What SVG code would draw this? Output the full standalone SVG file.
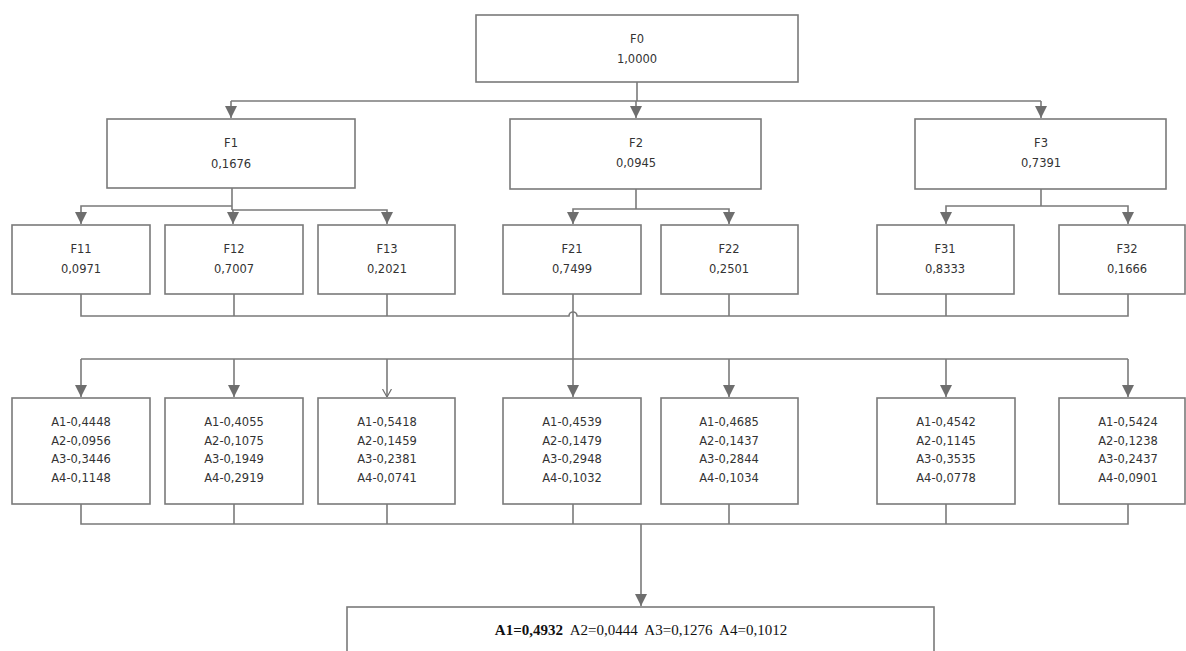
<svg xmlns="http://www.w3.org/2000/svg" width="1186" height="651" viewBox="0 0 1186 651">
  <style>
    .box { fill: #ffffff; stroke: #7a7a7a; stroke-width: 1.6; }
    .ln { fill: none; stroke: #7a7a7a; stroke-width: 1.6; }
    .arr { marker-end: url(#tri); }
    .lbl { font-family: "DejaVu Sans", Tahoma, sans-serif; font-size: 11.5px; fill: #333; text-anchor: middle; }
    .al { font-family: "DejaVu Sans", Tahoma, sans-serif; font-size: 11.5px; fill: #333; text-anchor: middle; }
    .res { font-family: "Liberation Serif", "Times New Roman", serif; font-size: 15px; fill: #111; text-anchor: middle; }
  </style>
  <defs>
    <marker id="tri" markerUnits="userSpaceOnUse" markerWidth="12" markerHeight="12" refX="10" refY="5" orient="auto" viewBox="0 0 10 10">
      <path d="M0,0 L10,5 L0,10 z" fill="#6e6e6e"/>
    </marker>
    <marker id="vee" markerUnits="userSpaceOnUse" markerWidth="8" markerHeight="10" refX="8" refY="5" orient="auto" viewBox="0 0 8 10">
      <path d="M0,0.5 L8,5 L0,9.5" fill="none" stroke="#6e6e6e" stroke-width="1.2"/>
    </marker>
  </defs>
  <rect width="1186" height="651" fill="#ffffff"/>

  <!-- connectors -->
  <g id="connectors">
    <!-- F0 to F1, F2, F3 -->
    <path class="ln" d="M637,82 V101"/>
    <path class="ln" d="M231,101 H1041"/>
    <path class="ln arr" d="M231,101 V118"/>
    <path class="ln arr" d="M636,101 V118"/>
    <path class="ln arr" d="M1041,101 V118"/>
    <!-- F1 to F11, F12, F13 -->
    <path class="ln" d="M232,188 V210"/>
    <path class="ln arr" d="M232,206 H81 V224"/>
    <path class="ln arr" d="M232,210 H387 V224"/>
    <path class="ln arr" d="M233,210 V224"/>
    <!-- F2 to F21, F22 -->
    <path class="ln" d="M636,189 V209"/>
    <path class="ln arr" d="M636,209 H573 V224"/>
    <path class="ln arr" d="M636,209 H729 V224"/>
    <!-- F3 to F31, F32 -->
    <path class="ln" d="M1041,189 V206"/>
    <path class="ln arr" d="M1041,206 H946 V224"/>
    <path class="ln arr" d="M1041,206 H1128 V224"/>
    <!-- second level bus with a hop over the F21 drop -->
    <path class="ln" d="M81,294 V316 H569 A4,4 0 0 1 577,316 H1128 V294"/>
    <path class="ln" d="M234,294 V316"/>
    <path class="ln" d="M387,294 V316"/>
    <path class="ln" d="M729,294 V316"/>
    <path class="ln" d="M946,294 V316"/>
    <!-- drop from F21 to the alternatives bus -->
    <path class="ln arr" d="M573,294 V397"/>
    <path class="ln" d="M81,359 H1128"/>
    <path class="ln arr" d="M81,359 V397"/>
    <path class="ln arr" d="M234,359 V397"/>
    <path class="ln" style="marker-end:url(#vee)" d="M387,359 V397"/>
    <path class="ln arr" d="M729,359 V397"/>
    <path class="ln arr" d="M946,359 V397"/>
    <path class="ln arr" d="M1128,359 V397"/>
    <!-- alternatives to result -->
    <path class="ln" d="M81,504 V524 H1128 V504"/>
    <path class="ln" d="M234,504 V524"/>
    <path class="ln" d="M387,504 V524"/>
    <path class="ln" d="M573,504 V524"/>
    <path class="ln" d="M729,504 V524"/>
    <path class="ln" d="M946,504 V524"/>
    <path class="ln arr" d="M641,524 V606"/>
  </g>

  <!-- top goal -->
  <g id="F0">
    <rect class="box" x="476" y="15" width="322" height="67"/>
    <text class="lbl" x="637" y="43">F0</text>
    <text class="lbl" x="637" y="63">1,0000</text>
  </g>

  <!-- first level criteria -->
  <g id="F1">
    <rect class="box" x="107" y="119" width="248" height="69"/>
    <text class="lbl" x="231" y="147">F1</text>
    <text class="lbl" x="231" y="168">0,1676</text>
  </g>
  <g id="F2">
    <rect class="box" x="510" y="119" width="251" height="70"/>
    <text class="lbl" x="636" y="147">F2</text>
    <text class="lbl" x="636" y="167">0,0945</text>
  </g>
  <g id="F3">
    <rect class="box" x="915" y="119" width="251" height="70"/>
    <text class="lbl" x="1041" y="147">F3</text>
    <text class="lbl" x="1041" y="167">0,7391</text>
  </g>

  <!-- sub-criteria -->
  <g id="F11">
    <rect class="box" x="12" y="225" width="138" height="69"/>
    <text class="lbl" x="81" y="253">F11</text>
    <text class="lbl" x="81" y="273">0,0971</text>
  </g>
  <g id="F12">
    <rect class="box" x="165" y="225" width="138" height="69"/>
    <text class="lbl" x="234" y="253">F12</text>
    <text class="lbl" x="234" y="273">0,7007</text>
  </g>
  <g id="F13">
    <rect class="box" x="318" y="225" width="137" height="69"/>
    <text class="lbl" x="387" y="253">F13</text>
    <text class="lbl" x="387" y="273">0,2021</text>
  </g>
  <g id="F21">
    <rect class="box" x="503" y="225" width="138" height="69"/>
    <text class="lbl" x="572" y="253">F21</text>
    <text class="lbl" x="572" y="273">0,7499</text>
  </g>
  <g id="F22">
    <rect class="box" x="661" y="225" width="137" height="69"/>
    <text class="lbl" x="729" y="253">F22</text>
    <text class="lbl" x="729" y="273">0,2501</text>
  </g>
  <g id="F31">
    <rect class="box" x="877" y="225" width="137" height="69"/>
    <text class="lbl" x="945" y="253">F31</text>
    <text class="lbl" x="945" y="273">0,8333</text>
  </g>
  <g id="F32">
    <rect class="box" x="1059" y="225" width="126" height="69"/>
    <text class="lbl" x="1127" y="253">F32</text>
    <text class="lbl" x="1127" y="273">0,1666</text>
  </g>

  <!-- alternative weights per sub-criterion -->
  <g id="A-F11">
    <rect class="box" x="12" y="398" width="138" height="106"/>
    <text class="al" x="81" y="426">A1-0,4448</text>
    <text class="al" x="81" y="445">A2-0,0956</text>
    <text class="al" x="81" y="463">A3-0,3446</text>
    <text class="al" x="81" y="482">A4-0,1148</text>
  </g>
  <g id="A-F12">
    <rect class="box" x="165" y="398" width="138" height="106"/>
    <text class="al" x="234" y="426">A1-0,4055</text>
    <text class="al" x="234" y="445">A2-0,1075</text>
    <text class="al" x="234" y="463">A3-0,1949</text>
    <text class="al" x="234" y="482">A4-0,2919</text>
  </g>
  <g id="A-F13">
    <rect class="box" x="318" y="398" width="137" height="106"/>
    <text class="al" x="387" y="426">A1-0,5418</text>
    <text class="al" x="387" y="445">A2-0,1459</text>
    <text class="al" x="387" y="463">A3-0,2381</text>
    <text class="al" x="387" y="482">A4-0,0741</text>
  </g>
  <g id="A-F21">
    <rect class="box" x="503" y="398" width="138" height="106"/>
    <text class="al" x="572" y="426">A1-0,4539</text>
    <text class="al" x="572" y="445">A2-0,1479</text>
    <text class="al" x="572" y="463">A3-0,2948</text>
    <text class="al" x="572" y="482">A4-0,1032</text>
  </g>
  <g id="A-F22">
    <rect class="box" x="661" y="398" width="137" height="106"/>
    <text class="al" x="729" y="426">A1-0,4685</text>
    <text class="al" x="729" y="445">A2-0,1437</text>
    <text class="al" x="729" y="463">A3-0,2844</text>
    <text class="al" x="729" y="482">A4-0,1034</text>
  </g>
  <g id="A-F31">
    <rect class="box" x="877" y="398" width="138" height="106"/>
    <text class="al" x="946" y="426">A1-0,4542</text>
    <text class="al" x="946" y="445">A2-0,1145</text>
    <text class="al" x="946" y="463">A3-0,3535</text>
    <text class="al" x="946" y="482">A4-0,0778</text>
  </g>
  <g id="A-F32">
    <rect class="box" x="1059" y="398" width="126" height="106"/>
    <text class="al" x="1128" y="426">A1-0,5424</text>
    <text class="al" x="1128" y="445">A2-0,1238</text>
    <text class="al" x="1128" y="463">A3-0,2437</text>
    <text class="al" x="1128" y="482">A4-0,0901</text>
  </g>

  <!-- overall result -->
  <g id="result">
    <rect class="box" x="347" y="607" width="587" height="60"/>
    <text class="res" x="641" y="635" xml:space="preserve"><tspan font-weight="bold">A1=0,4932</tspan>  A2=0,0444  A3=0,1276  A4=0,1012</text>
  </g>
</svg>
